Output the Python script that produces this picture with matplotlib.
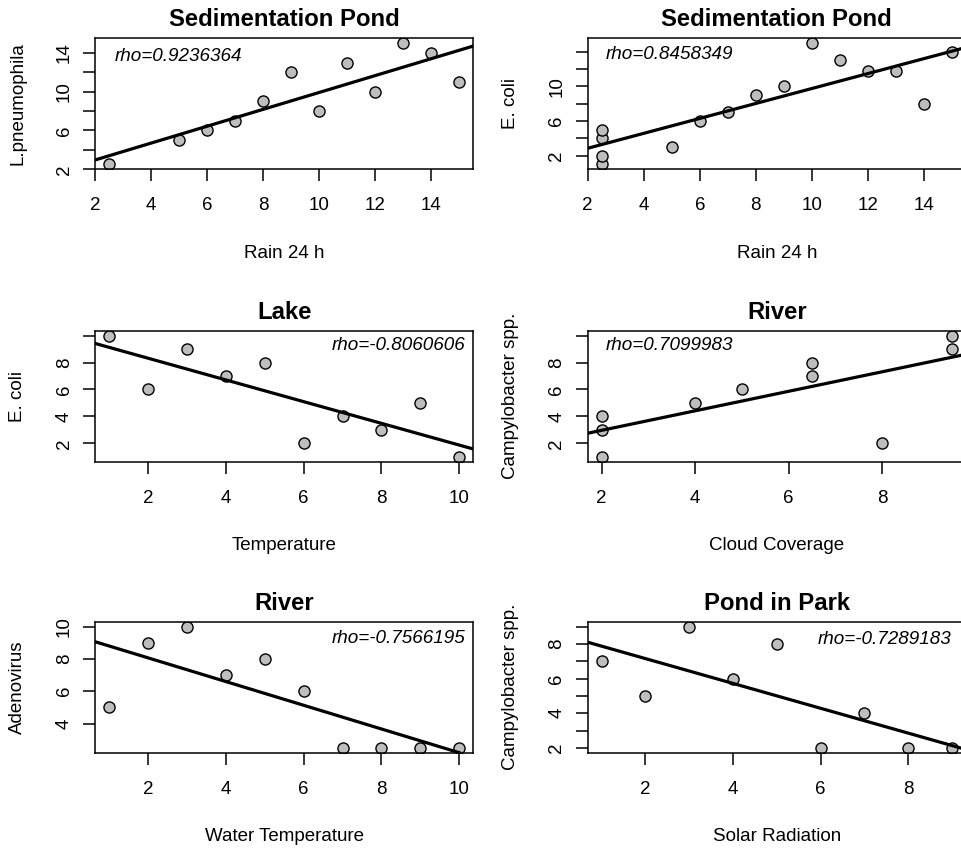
import numpy as np
import matplotlib.pyplot as plt

plt.rcParams['font.family'] = ['Liberation Sans', 'DejaVu Sans']

# Sedimentation pond: L. pneumophila vs rain
rain_a = [2.5, 5, 6, 7, 8, 9, 10, 11, 12, 13, 14, 15]
legionella = [2.5, 5, 6, 7, 9, 12, 8, 13, 10, 15, 14, 11]

# Sedimentation pond: E. coli vs rain
rain_b = [2.5, 2.5, 2.5, 2.5, 5, 6, 7, 8, 9, 10, 11, 12, 13, 14, 15]
ecoli_pond = [1, 2, 4, 5, 3, 6, 7, 9, 10, 15, 13, 11.8, 11.8, 8, 14]

# Lake: E. coli vs temperature
temp_lake = [1, 2, 3, 4, 5, 6, 7, 8, 9, 10]
ecoli_lake = [10, 6, 9, 7, 8, 2, 4, 3, 5, 1]

# River: Campylobacter vs cloud coverage
cloud = [2, 2, 2, 4, 5, 6.5, 6.5, 8, 9.5, 9.5]
campy_river = [1, 3, 4, 5, 6, 7, 8, 2, 9, 10]

# River: Adenovirus vs water temperature
water_temp = [1, 2, 3, 4, 5, 6, 7, 8, 9, 10]
adeno = [5, 9, 10, 7, 8, 6, 2.5, 2.5, 2.5, 2.5]

# Pond in park: Campylobacter vs solar radiation
solar = [1, 2, 3, 4, 5, 6, 7, 8, 9]
campy_park = [7, 5, 9, 6, 8, 2, 4, 2, 2]

titles = ['Sedimentation Pond', 'Sedimentation Pond', 'Lake', 'River',
          'River', 'Pond in Park']
xlabels = ['Rain 24 h', 'Rain 24 h', 'Temperature', 'Cloud Coverage',
           'Water Temperature', 'Solar Radiation']
ylabels = ['L.pneumophila', 'E. coli', 'E. coli', 'Campylobacter spp.',
           'Adenovirus', 'Campylobacter spp.']
rho_text = ['rho=0.9236364', 'rho=0.8458349', 'rho=-0.8060606',
            'rho=0.7099983', 'rho=-0.7566195', 'rho=-0.7289183']

xticks = [[2, 4, 6, 8, 10, 12, 14], [2, 4, 6, 8, 10, 12, 14],
          [2, 4, 6, 8, 10], [2, 4, 6, 8], [2, 4, 6, 8, 10], [2, 4, 6, 8]]
yticks = [[2, 4, 6, 8, 10, 12, 14], [2, 4, 6, 8, 10, 12, 14],
          [2, 4, 6, 8, 10], [2, 4, 6, 8, 10], [4, 6, 8, 10],
          [2, 3, 4, 5, 6, 7, 8, 9]]
ytick_labels = [['2', '', '6', '', '10', '', '14'],
                ['2', '', '6', '', '10', '', ''],
                ['2', '4', '6', '8', ''],
                ['2', '4', '6', '8', ''],
                ['4', '6', '8', '10'],
                ['2', '', '4', '', '6', '', '8', '']]

xs = [rain_a, rain_b, temp_lake, cloud, water_temp, solar]
ys = [legionella, ecoli_pond, ecoli_lake, campy_river, adeno, campy_park]

W, H = 962, 848
fig = plt.figure(figsize=(W / 100, H / 100), dpi=100)

lefts = [95, 587.7]
tops = [38.3, 330.7, 621.7]
aw, ah = 378.3, 131.0
px = 0.72  # points per pixel

# rho label placement: (side, dx px, baseline below top px)
rho_pos = [('left', 20, 23), ('left', 18.3, 21), ('right', 8.3, 19.5),
           ('left', 18.3, 19.5), ('right', 8.3, 21), ('right', 14.7, 22.5)]


def padded(v):
    lo, hi = min(v), max(v)
    d = 0.04 * (hi - lo)
    return lo - d, hi + d


for i in range(6):
    row, col = divmod(i, 2)
    l, t = lefts[col], tops[row]
    ax = fig.add_axes([l / W, 1 - (t + ah) / H, aw / W, ah / H])
    x = np.array(xs[i], dtype=float)
    y = np.array(ys[i], dtype=float)

    ax.plot(x, y, 'o', ms=8, mfc='#bebebe', mec='black', mew=1.0, zorder=2)
    m, b = np.polyfit(x, y, 1)
    ax.axline((0, b), slope=m, color='black', lw=2.3, zorder=3)

    ax.set_xlim(*padded(x))
    ax.set_ylim(*padded(y))
    ax.set_xticks(xticks[i])
    ax.set_xticklabels([str(v) for v in xticks[i]])
    ax.set_yticks(yticks[i])
    ax.set_yticklabels(ytick_labels[i], rotation=90, va='center')
    ax.tick_params(axis='both', length=8.6, width=1.1, labelsize=13.5,
                   direction='out')
    ax.tick_params(axis='x', pad=11.5)
    ax.tick_params(axis='y', pad=7.5)
    for s in ax.spines.values():
        s.set_linewidth(1.1)

    ax.annotate(titles[i], (0.5, 1), xycoords='axes fraction',
                xytext=(0, 12 * px), textcoords='offset points',
                ha='center', va='baseline', fontsize=17.2, fontweight='bold')
    ax.annotate(xlabels[i], (0.5, 0), xycoords='axes fraction',
                xytext=(0, -88.6 * px), textcoords='offset points',
                ha='center', va='baseline', fontsize=13.5)
    ax.annotate(ylabels[i], (0, 0.5), xycoords='axes fraction',
                xytext=(-73 * px, 0), textcoords='offset points',
                ha='center', va='baseline', rotation=90,
                rotation_mode='anchor', fontsize=13.5)

    side, dx, dy = rho_pos[i]
    if side == 'left':
        ax.annotate(rho_text[i], (0, 1), xycoords='axes fraction',
                    xytext=(dx * px, -dy * px), textcoords='offset points',
                    ha='left', va='baseline', style='italic', fontsize=13.6)
    else:
        ax.annotate(rho_text[i], (1, 1), xycoords='axes fraction',
                    xytext=(-dx * px, -dy * px), textcoords='offset points',
                    ha='right', va='baseline', style='italic', fontsize=13.6)

fig.savefig('out.png', dpi=100)
